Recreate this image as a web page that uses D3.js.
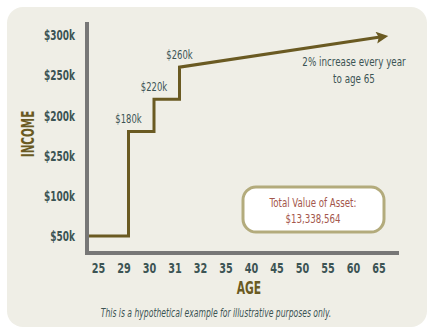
<!DOCTYPE html>
<html>
<head>
<meta charset="utf-8">
<script src="https://cdn.jsdelivr.net/npm/d3@7"></script>
<style>
  html, body { margin: 0; padding: 0; background: #ffffff; }
  svg { display: block; }
  text { font-family: "Liberation Sans Narrow", "DejaVu Sans Condensed", "Roboto", sans-serif; }
</style>
</head>
<body>
<svg id="chart" width="433" height="334"></svg>
<script>
// Age categories shown along the x axis
const ages = [25, 29, 30, 31, 32, 35, 40, 45, 50, 55, 60, 65];
// Income ticks (in $k) and the labels printed beside them
const incomeTicks = [50, 100, 150, 200, 250, 300];
const incomeTickLabels = ["$50k", "$100k", "$250k", "$200k", "$250k", "$300k"];
// Income path: flat start, three raises, then growth to age 65 (in $k)
const pathAges =   [25, 29, 29, 30, 30, 31, 31, 65];
const pathIncome = [50, 50, 180, 180, 220, 220, 260, 298];
// Raise labels placed at each step
const stepAges = [29, 30, 31];
const stepIncome = [180, 220, 260];
const noteLines = ["2% increase every year", "to age 65"];
const totalLines = ["Total Value of Asset:", "$13,338,564"];

const svg = d3.select("#chart");
const slate = "#3c5454";
const olive = "#6a5a22";

// condensed text: horizontally squeezed around its anchor point
function label(parent, px, py, k) {
  return parent.append("text")
    .attr("transform", `translate(${px},${py}) scale(${k},1)`);
}

// background card
svg.append("rect")
  .attr("x", 7).attr("y", 7).attr("width", 420).attr("height", 320)
  .attr("rx", 16).attr("fill", "#efeee6");

const x = d3.scalePoint().domain(ages).range([103, 383.5]);
const y = d3.scaleLinear().domain([50, 300]).range([236, 35]);
const axisX0 = 87, axisY0 = 253;
const labelShift = -5;

// y tick labels
const yAxis = d3.axisLeft(y).tickValues(incomeTicks)
  .tickFormat((d, i) => incomeTickLabels[i]).tickSize(0).tickPadding(0);
const gy = svg.append("g").attr("transform", `translate(75,0)`).call(yAxis);
gy.select(".domain").remove();
gy.selectAll("text")
  .attr("fill", slate).attr("font-size", 13.5).attr("font-weight", "bold")
  .attr("dy", "0.35em").attr("transform", "scale(0.74,1)");

// x tick labels
const xAxis = d3.axisBottom(x).tickSize(0).tickPadding(0);
const gx = svg.append("g").attr("transform", `translate(${labelShift},262)`).call(xAxis);
gx.select(".domain").remove();
gx.selectAll("text")
  .attr("fill", slate).attr("font-size", 13.5).attr("font-weight", "bold")
  .attr("dy", "0.35em").attr("y", 6).attr("transform", "scale(0.8,1)");

// axis lines
svg.append("line")
  .attr("x1", axisX0).attr("x2", axisX0).attr("y1", 22).attr("y2", axisY0 + 2)
  .attr("stroke", "#777777").attr("stroke-width", 4);
svg.append("line")
  .attr("x1", axisX0 - 2).attr("x2", 399).attr("y1", axisY0).attr("y2", axisY0)
  .attr("stroke", "#777777").attr("stroke-width", 4);

// axis titles
svg.append("text")
  .attr("transform", "translate(34,134) rotate(-90) scale(0.68,1)")
  .attr("text-anchor", "middle")
  .attr("fill", olive).attr("font-size", 17).attr("font-weight", "bold")
  .text("INCOME");
label(svg, 249, 294, 0.7)
  .attr("text-anchor", "middle")
  .attr("fill", olive).attr("font-size", 17).attr("font-weight", "bold")
  .text("AGE");

// arrowhead
svg.append("defs").append("marker")
  .attr("id", "arrow").attr("viewBox", "0 0 10 10")
  .attr("refX", 6).attr("refY", 5)
  .attr("markerWidth", 5).attr("markerHeight", 4)
  .attr("markerUnits", "strokeWidth")
  .attr("orient", "auto")
  .append("path").attr("d", "M0,0 L10,5 L0,10 L2,5 Z").attr("fill", olive);

// income line
const pts = pathAges.map((a, i) => [i === 0 ? axisX0 + 2 : x(a), y(pathIncome[i])]);
svg.append("path")
  .attr("d", d3.line()(pts))
  .attr("fill", "none").attr("stroke", olive).attr("stroke-width", 3)
  .attr("stroke-linejoin", "miter")
  .attr("marker-end", "url(#arrow)");

// step labels
stepAges.forEach((a, i) => {
  label(svg, x(a), y(stepIncome[i]) - 8, 0.75)
    .attr("text-anchor", "middle")
    .attr("fill", slate).attr("font-size", 12.5)
    .text(`$${stepIncome[i]}k`);
});

// growth note
noteLines.forEach((t, i) => {
  label(svg, 354, 66 + i * 17, 0.78)
    .attr("text-anchor", "middle")
    .attr("fill", slate).attr("font-size", 12.5)
    .text(t);
});

// total value box
svg.append("rect")
  .attr("x", 243).attr("y", 187).attr("width", 141).attr("height", 45)
  .attr("rx", 13).attr("fill", "#ffffff")
  .attr("stroke", "#b3ab7c").attr("stroke-width", 3);
totalLines.forEach((t, i) => {
  label(svg, 313, 207 + i * 16, 0.77)
    .attr("text-anchor", "middle")
    .attr("fill", "#a4574c").attr("font-size", 12.5)
    .text(t);
});

// footnote
label(svg, 216, 317, 0.74)
  .attr("text-anchor", "middle")
  .attr("fill", slate).attr("font-size", 11.5).attr("font-style", "italic")
  .text("This is a hypothetical example for illustrative purposes only.");
</script>
</body>
</html>
